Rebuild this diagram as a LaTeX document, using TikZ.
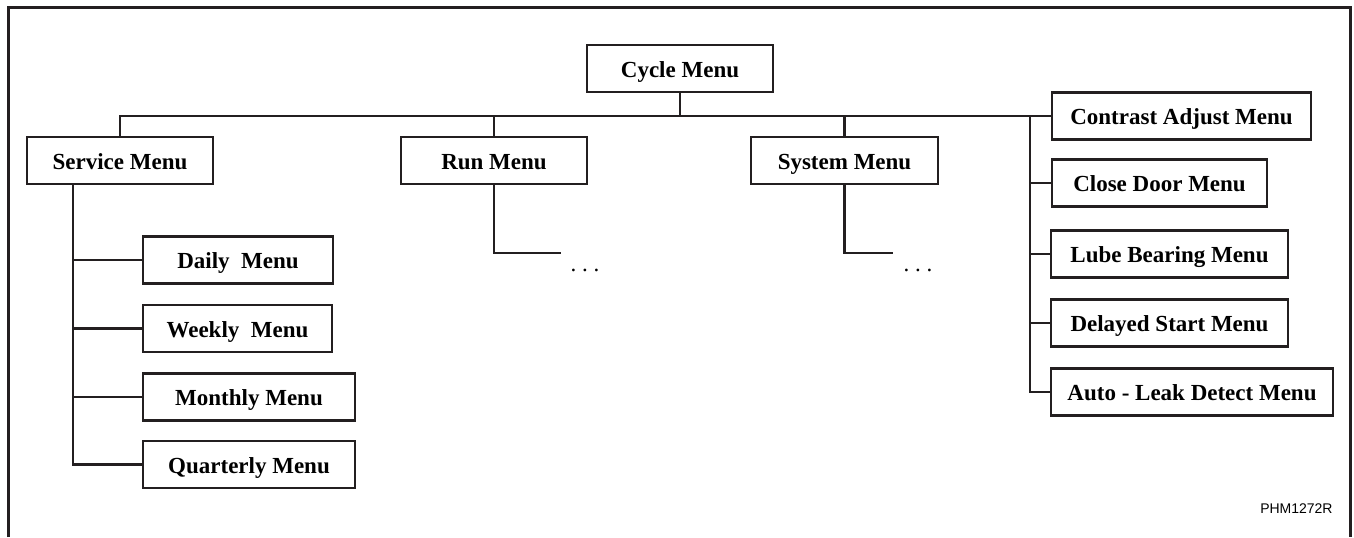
\documentclass[tikz,border=0pt]{standalone}
\usepackage{fontspec}
\setmainfont{Liberation Serif}
\newfontfamily\tagfont{Liberation Sans}
\usepackage{tikz}
\usetikzlibrary{positioning,calc}
\definecolor{ink}{RGB}{35,31,32}
\tikzset{
  menu/.style={draw=ink,line width=1.3pt,fill=white,inner sep=0pt,
               minimum height=23.5pt,text height=10pt,text depth=1.3pt,
               font=\fontsize{11.5}{13}\selectfont\bfseries},
  link/.style={draw=ink,line width=1.3pt},
  more/.style={anchor=base,inner sep=0pt,font=\fontsize{11.5}{13}\selectfont},
}

\begin{document}
\begin{tikzpicture}[x=0.5pt,y=-0.5pt]
  \useasboundingbox (0,0) rectangle (1354,537);
  \draw[draw=ink,line width=1.5pt] (8,537) -- (8,7) -- (1350,7) -- (1350,537);

  \node[menu,minimum width=93pt]   (cyc)   at (680,68.5)   {Cycle Menu};
  \node[menu,minimum width=93pt]   (svc)   at (120,160.5)  {Service Menu};
  \node[menu,minimum width=93pt]   (run)   at (494,160.5)  {Run Menu};
  \node[menu,minimum width=93.5pt] (sys)   at (844.5,160.5){System Menu};

  \node[menu,minimum width=95pt]   (daily) at (238,260)    {Daily\ \ Menu};
  \node[menu,minimum width=94.5pt] (week)  at (237.5,328.5){Weekly\ \ Menu};
  \node[menu,minimum width=106pt]  (month) at (249,397)    {Monthly Menu};
  \node[menu,minimum width=106pt]  (quart) at (249,464.5)  {Quarterly Menu};

  \node[menu,minimum width=129.5pt](ctr)   at (1181.5,116) {Contrast Adjust Menu};
  \node[menu,minimum width=107.5pt](door)  at (1159.5,183) {Close Door Menu};
  \node[menu,minimum width=118.5pt](lube)  at (1169.5,254) {Lube Bearing Menu};
  \node[menu,minimum width=118.5pt](delay) at (1169.5,323) {Delayed Start Menu};
  \node[menu,minimum width=141pt]  (leak)  at (1192,392)   {Auto - Leak Detect Menu};

  % main bus
  \draw[link] (svc.north) |- (ctr.west);
  \draw[link] (cyc.south) -- (cyc.south |- ctr.west);
  \draw[link] (run.north |- ctr.west) -- (run.north);
  \draw[link] (sys.north |- ctr.west) -- (sys.north);

  % service branch
  \coordinate (sspine) at (73,184);
  \draw[link] (sspine) |- (quart.west);
  \foreach \n in {daily,week,month}
    \draw[link] (sspine |- \n.west) -- (\n.west);

  % right column
  \coordinate (rspine) at (1030,116);
  \draw[link] (rspine) |- (leak.west);
  \foreach \n in {door,lube,delay}
    \draw[link] (rspine |- \n.west) -- (\n.west);

  % open branches
  \coordinate (runend) at (561,253);
  \coordinate (sysend) at (893,253);
  \draw[link] (run.south) |- (runend);
  \draw[link] (sys.south) |- (sysend);
  \node[more] (rundots) at (585,271) {.\ .\ .};
  \node[more] (sysdots) at (918,271) {.\ .\ .};

  \node[anchor=east,inner sep=0pt,font=\tagfont\fontsize{7}{8}\selectfont] (tag)
        at (1333,509) {PHM1272R};
\end{tikzpicture}
\end{document}
